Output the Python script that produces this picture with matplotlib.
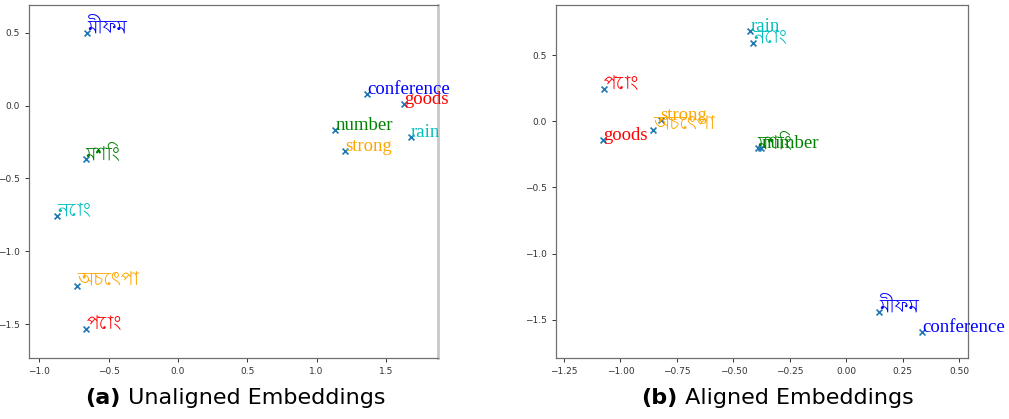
import matplotlib
matplotlib.use("Agg")
import matplotlib.pyplot as plt
from matplotlib import font_manager

# ---------------- data ----------------
words = ["মীফম", "conference", "goods", "number", "rain", "strong",
         "মশিং", "নোং", "অচেৎপা", "পোং"]
word_colors = ["blue", "blue", "red", "green", "c", "orange",
               "green", "c", "orange", "red"]

unaligned_x = [-0.654, 1.367, 1.634, 1.136, 1.680, 1.208, -0.665, -0.870, -0.728, -0.661]
unaligned_y = [0.496, 0.078, 0.014, -0.168, -0.218, -0.315, -0.370, -0.760, -1.238, -1.534]

aligned_x = [0.145, 0.335, -1.078, -0.377, -0.425, -0.822, -0.392, -0.412, -0.855, -1.074]
aligned_y = [-1.444, -1.593, -0.144, -0.205, 0.686, 0.010, -0.205, 0.595, -0.065, 0.243]

captions = [("(a)", "Unaligned Embeddings"), ("(b)", "Aligned Embeddings")]


# ---------------- fonts ----------------
def find_fonts_for(ch):
    try:
        from fontTools.ttLib import TTFont
    except Exception:
        return []
    seen = set()
    found = []
    for f in font_manager.fontManager.ttflist:
        if f.fname in seen:
            continue
        seen.add(f.fname)
        try:
            kw = {"fontNumber": 0} if f.fname.lower().endswith(".ttc") else {}
            tt = TTFont(f.fname, lazy=True, **kw)
            cmap = tt.getBestCmap()
            if cmap and ord(ch) in cmap:
                found.append(f.name)
        except Exception:
            continue
    return found


def pick_bengali():
    cands = find_fonts_for("ম")
    if not cands:
        return None
    prefs = ["lohit", "bengali", "mukti", "kalpurush", "siyam", "solaiman",
             "akaash", "ani", "freeserif", "freesans"]
    for p in prefs:
        for c in cands:
            if p in c.lower() and "mono" not in c.lower():
                return c
    for c in cands:
        if "mono" not in c.lower():
            return c
    return cands[0]


beng = pick_bengali()
latin_family = ["Liberation Serif", "DejaVu Serif"]


def family_for(word):
    if any(0x0980 <= ord(ch) <= 0x09FF for ch in word) and beng:
        return [beng] + latin_family
    return latin_family


# ---------------- figure ----------------
fig = plt.figure(figsize=(10.09, 4.19), dpi=100)
ax1 = fig.add_axes([0.029, 0.145, 0.405, 0.844])
ax2 = fig.add_axes([0.5513, 0.145, 0.4083, 0.844])


def draw(ax, xs, ys):
    ax.scatter(xs, ys, marker="x", s=18, color="#1f77b4", linewidths=1.2, zorder=3)
    for w, c, x, y in zip(words, word_colors, xs, ys):
        ax.annotate(w, (x, y), color=c, fontsize=13.5, family=family_for(w),
                    ha="left", va="baseline", zorder=4, annotation_clip=False)
    for s in ax.spines.values():
        s.set_color("#707070")
        s.set_linewidth(0.9)
    ax.tick_params(labelsize=6.5, colors="#333333", length=3, width=0.7)


draw(ax1, unaligned_x, unaligned_y)
ax1.set_xlim(-1.072, 1.875)
ax1.set_ylim(-1.734, 0.693)
ax1.set_xticks([-1.0, -0.5, 0.0, 0.5, 1.0, 1.5])
ax1.set_yticks([-1.5, -1.0, -0.5, 0.0, 0.5])
ax1.spines["right"].set_color("#c8c8c8")
ax1.spines["right"].set_linewidth(2.0)

draw(ax2, aligned_x, aligned_y)
ax2.set_xlim(-1.284, 0.540)
ax2.set_ylim(-1.792, 0.883)
ax2.set_xticks([-1.25, -1.0, -0.75, -0.5, -0.25, 0.0, 0.25, 0.5])
ax2.set_yticks([-1.5, -1.0, -0.5, 0.0, 0.5])

cap_fs = 16
for cx, (tag, title) in zip([0.231, 0.768], captions):
    t = fig.text(cx, 0.05, tag + " " + title, fontsize=cap_fs, ha="center", va="center",
                 family=["DejaVu Sans"], alpha=0)
    fig.canvas.draw()
    bb = t.get_window_extent()
    t.remove()
    left = bb.x0 / fig.bbox.width
    t1 = fig.text(left, 0.05, tag, fontsize=cap_fs, fontweight="bold", ha="left",
                  va="center", family=["DejaVu Sans"])
    fig.canvas.draw()
    bb1 = t1.get_window_extent()
    fig.text(bb1.x1 / fig.bbox.width, 0.05, " " + title, fontsize=cap_fs, ha="left",
             va="center", family=["DejaVu Sans"])

fig.savefig("out.png", dpi=100)
